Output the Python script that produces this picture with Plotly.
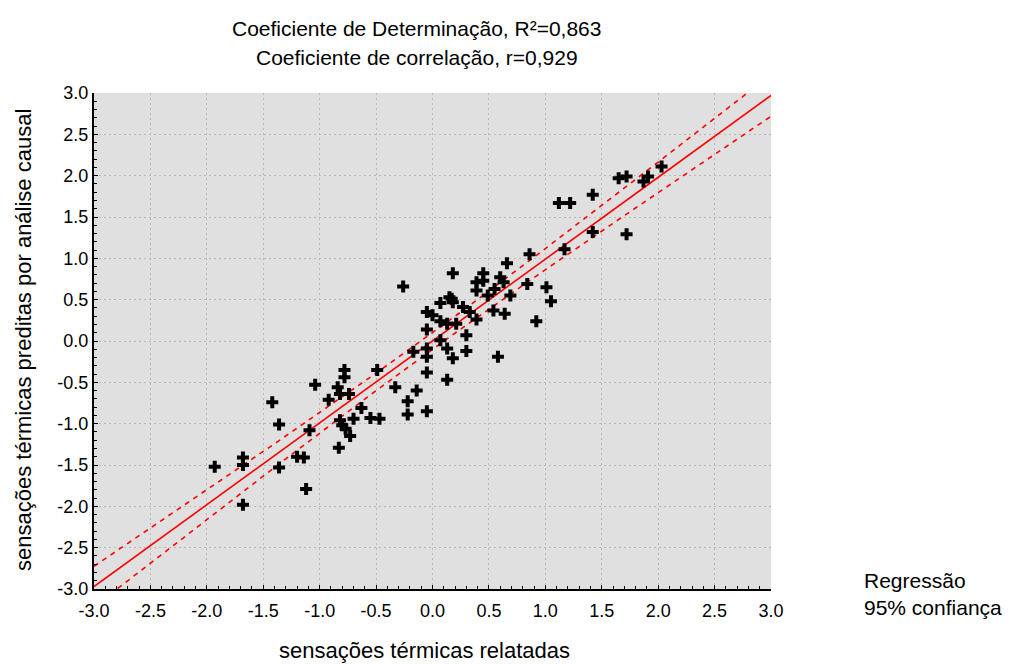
import numpy as np
import plotly.graph_objects as go

obs = [-1.93, -1.68, -1.68, -1.68, -1.42, -1.36, -1.36, -1.12, -1.20, -1.14,
       -1.09, -1.04, -0.92, -0.84, -0.78, -0.78, -0.82, -0.74, -0.82, -0.80,
       -0.77, -0.73, -0.83, -0.70, -0.63, -0.55, -0.47, -0.49, -0.33, -0.22,
       -0.22, -0.14, -0.05, -0.05, -0.05, -0.17, 0.07, 0.13, 0.13, 0.18,
       0.30, 0.30, 0.58, -0.26, -0.05, -0.05, 0.00, 0.07, 0.07, 0.15,
       0.17, 0.18, 0.18, 0.13, 0.21, 0.27, 0.33, 0.39, 0.39, 0.39,
       0.45, 0.45, 0.49, 0.54, 0.64, 0.55, 0.60, 0.63, 0.66, 0.69,
       0.84, 0.86, 0.92, 1.01, 1.05, 1.17, 1.12, 1.22, 1.42, 1.42,
       1.72, 1.65, 1.72, 1.87, 1.91, 2.03, -0.05]
pred = [-1.52, -1.41, -1.50, -1.98, -0.74, -1.01, -1.53, -1.79, -1.40, -1.41,
        -1.08, -0.53, -0.71, -0.56, -0.35, -0.44, -0.64, -0.64, -0.96, -1.02,
        -1.06, -1.15, -1.29, -0.94, -0.81, -0.93, -0.94, -0.35, -0.56, -0.73,
        -0.89, -0.60, -0.85, -0.19, -0.38, -0.13, 0.01, -0.09, -0.47, -0.21,
        0.07, -0.12, -0.19, 0.66, 0.14, 0.35, 0.31, 0.24, 0.46, 0.53,
        0.51, 0.47, 0.82, 0.21, 0.21, 0.41, 0.35, 0.26, 0.71, 0.61,
        0.82, 0.73, 0.55, 0.37, 0.33, 0.63, 0.77, 0.71, 0.94, 0.55,
        0.69, 1.05, 0.24, 0.65, 0.48, 1.11, 1.67, 1.67, 1.77, 1.32,
        1.29, 1.97, 1.99, 1.93, 1.99, 2.11, -0.09]

# regression line and 95% band parameters
reg_intercept = 0.0
reg_slope = 0.99
band_halfwidth_at_mean = 0.10
band_x_mean = -0.05
band_scale = 1.32

axis_min, axis_max = -3.0, 3.0
tick_vals = [-3.0, -2.5, -2.0, -1.5, -1.0, -0.5, 0.0, 0.5, 1.0, 1.5, 2.0, 2.5, 3.0]
tick_text = ["-3.0", "-2.5", "-2.0", "-1.5", "-1.0", "-0.5", "0.0", "0.5", "1.0", "1.5", "2.0", "2.5", "3.0"]

title1 = "Coeficiente de Determinação, R²=0,863"
title2 = "Coeficiente de correlação, r=0,929"
xlabel = "sensações térmicas relatadas"
ylabel = "sensações térmicas preditas por análise causal"
legend_labels = ["Regressão", "95% confiança"]

FONT = "Liberation Sans, Arial, sans-serif"

xs = np.linspace(axis_min, axis_max, 241)
yfit = reg_intercept + reg_slope * xs
hw = band_halfwidth_at_mean * np.sqrt(1 + ((xs - band_x_mean) / band_scale) ** 2)

fig = go.Figure()
fig.add_trace(go.Scatter(x=xs, y=yfit + hw, mode="lines",
                         line=dict(color="#ff0000", width=1.6, dash="5px,5px"),
                         showlegend=False, hoverinfo="skip"))
fig.add_trace(go.Scatter(x=xs, y=yfit - hw, mode="lines",
                         line=dict(color="#ff0000", width=1.6, dash="5px,5px"),
                         showlegend=False, hoverinfo="skip"))
fig.add_trace(go.Scatter(x=xs, y=yfit, mode="lines",
                         line=dict(color="#ff0000", width=1.6),
                         showlegend=False, hoverinfo="skip"))
fig.add_trace(go.Scatter(x=obs, y=pred, mode="markers",
                         marker=dict(symbol="cross", size=10, color="black",
                                     line=dict(width=0)),
                         showlegend=False))

axis_common = dict(
    range=[axis_min, axis_max], tickvals=tick_vals, ticktext=tick_text,
    showgrid=True, gridcolor="#b8b8b8", gridwidth=1, griddash="2px,3px",
    zeroline=False, showline=True, linecolor="black", linewidth=2,
    ticks="inside", ticklen=4, tickcolor="black", tickwidth=1,
    tickfont=dict(family=FONT, size=18, color="black"),
    minor=dict(dtick=0.1, ticks="inside", ticklen=3, tickcolor="black",
               tickwidth=1, showgrid=False),
    mirror=False, automargin=False,
)

fig.update_layout(
    width=1014, height=664,
    margin=dict(l=86, r=251, t=85, b=83),
    paper_bgcolor="white", plot_bgcolor="#e0e0e0",
    font=dict(family=FONT, size=21, color="black"),
    xaxis=dict(**axis_common, ticklabelstandoff=4),
    yaxis=dict(**axis_common),
    showlegend=False,
)

fig.add_annotation(text=title1, xref="paper", yref="paper", x=0.477, y=1.131,
                   showarrow=False, font=dict(size=21), xanchor="center", yanchor="middle")
fig.add_annotation(text=title2, xref="paper", yref="paper", x=0.477, y=1.0706,
                   showarrow=False, font=dict(size=21), xanchor="center", yanchor="middle")
fig.add_annotation(text=xlabel, xref="paper", yref="paper", x=0.4875, y=-0.123,
                   showarrow=False, font=dict(size=22), xanchor="center", yanchor="middle")
fig.add_annotation(text=ylabel, xref="paper", yref="paper", x=-0.105, y=0.502,
                   showarrow=False, font=dict(size=22), textangle=-90,
                   xanchor="center", yanchor="middle")
fig.add_annotation(text=legend_labels[0], xref="paper", yref="paper", x=1.134, y=0.018,
                   showarrow=False, font=dict(size=21), xanchor="left", yanchor="middle")
fig.add_annotation(text=legend_labels[1], xref="paper", yref="paper", x=1.134, y=-0.038,
                   showarrow=False, font=dict(size=21), xanchor="left", yanchor="middle")

fig.write_html("out.html")
